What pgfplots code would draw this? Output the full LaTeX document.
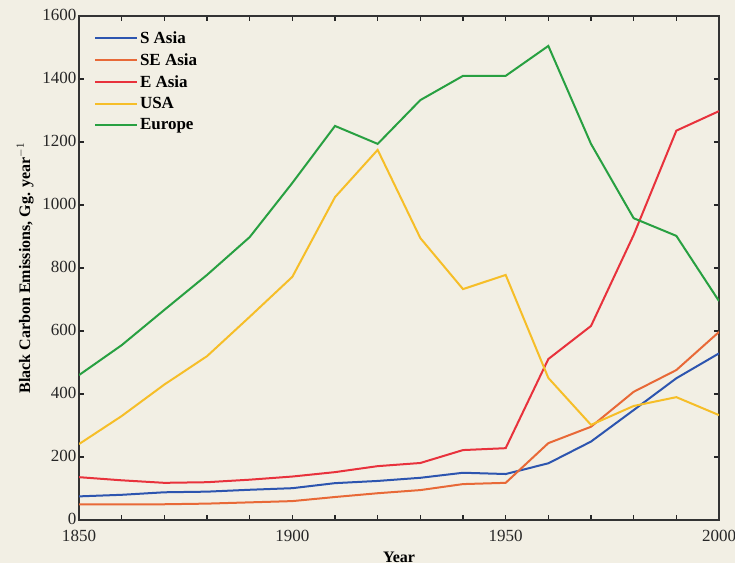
\documentclass[border=0pt]{standalone}
\usepackage{pgfplots}
\pgfplotsset{compat=1.18}
\usepackage{fontspec}
\setmainfont{Liberation Serif}
\definecolor{bg}{RGB}{242,239,228}
\definecolor{cSA}{RGB}{45,85,175}
\definecolor{cSE}{RGB}{232,105,55}
\definecolor{cEA}{RGB}{232,50,60}
\definecolor{cUS}{RGB}{246,190,40}
\definecolor{cEU}{RGB}{40,160,65}
\begin{document}
\begin{tikzpicture}[x=1pt,y=1pt]
\fill[bg] (0,0) rectangle (735,563);
\clip (0,0) rectangle (735,563);
\begin{axis}[
  at={(79pt,43pt)}, anchor=south west,
  scale only axis, width=640pt, height=504pt,
  xmin=1850, xmax=2000, ymin=0, ymax=1600,
  xtick={1850,1900,1950,2000},
  minor xtick={1860,1870,1880,1890,1910,1920,1930,1940,1960,1970,1980,1990},
  ytick={0,200,...,1600},
  tick align=inside,
  major tick length=5pt, minor tick length=5pt,
  every tick/.style={line width=1.2pt, black!85},
  axis line style={line width=1.8pt, black!80},
  /pgf/number format/1000 sep={},
  /pgf/number format/assume math mode=true,
  ticklabel style={font=\fontsize{17}{20}\selectfont, black!85},
  xticklabel style={yshift=-7pt},
  yticklabel style={xshift=1pt, yshift=1pt},
  xlabel={Year},
  ylabel={Black Carbon Emissions, Gg. year$^{-1}$},
  label style={font=\bfseries\fontsize{16}{19}\selectfont},
  xlabel style={yshift=-3pt},
  ylabel style={yshift=2pt},
  legend style={at={(0.02,0.977)}, anchor=north west, draw=none, fill=none,
    font=\bfseries\fontsize{17}{20}\selectfont, row sep=4.5pt,
    inner sep=2pt},
  legend cell align=left,
  legend image code/.code={\draw[#1, line width=2pt] (0pt,0pt) -- (42pt,0pt);},
  every axis plot/.append style={line width=2pt},
]
\addplot[cSA] coordinates {(1850,75) (1860,80) (1870,88) (1880,90) (1890,96) (1900,101) (1910,117) (1920,124) (1930,134) (1940,150) (1950,146) (1960,180) (1970,249) (1980,349) (1990,450) (2000,529)};
\addplot[cSE] coordinates {(1850,50) (1860,50) (1870,50) (1880,52) (1890,56) (1900,60) (1910,73) (1920,85) (1930,95) (1940,114) (1950,118) (1960,244) (1970,296) (1980,407) (1990,476) (2000,597)};
\addplot[cEA] coordinates {(1850,136) (1860,126) (1870,118) (1880,120) (1890,128) (1900,138) (1910,152) (1920,171) (1930,181) (1940,222) (1950,228) (1960,511) (1970,616) (1980,905) (1990,1236) (2000,1298)};
\addplot[cUS] coordinates {(1850,241) (1860,330) (1870,430) (1880,520) (1890,645) (1900,772) (1910,1025) (1920,1175) (1930,895) (1940,733) (1950,778) (1960,451) (1970,302) (1980,362) (1990,390) (2000,333)};
\addplot[cEU] coordinates {(1850,460) (1860,555) (1870,667) (1880,778) (1890,898) (1900,1070) (1910,1251) (1920,1194) (1930,1333) (1940,1410) (1950,1410) (1960,1505) (1970,1194) (1980,958) (1990,902) (2000,695)};
\legend{S Asia, SE Asia, E Asia, USA, Europe}
\end{axis}
\end{tikzpicture}
\end{document}
